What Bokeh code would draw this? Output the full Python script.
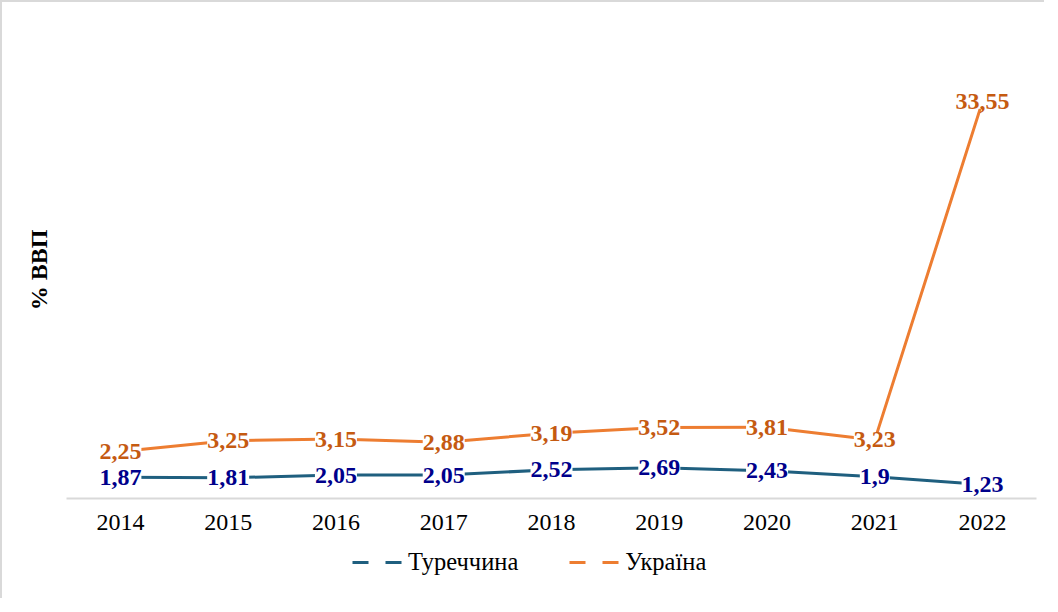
from bokeh.plotting import figure
from bokeh.layouts import column
from bokeh.models import Range1d, FactorRange, Legend, LegendItem, FixedTicker
from bokeh.core.properties import value
from bokeh.embed import file_html
from bokeh.resources import INLINE

# ---- data ----
years = ["2014", "2015", "2016", "2017", "2018", "2019", "2020", "2021", "2022"]
turkey = [1.87, 1.81, 2.05, 2.05, 2.52, 2.69, 2.43, 1.9, 1.23]
ukraine = [2.25, 3.25, 3.15, 2.88, 3.19, 3.52, 3.81, 3.23, 33.55]
series_names = ["Туреччина", "Україна"]
y_title = "% ВВП"

TC = "#1F5F7F"
UC = "#ED7D31"
TLC = "#00008B"
ULC = "#C55A11"
FONT = "Liberation Serif"


def fmt(v):
    return f"{v:g}".replace(".", ",")


# stacked line chart
stack_t = list(turkey)
stack_u = [a + b for a, b in zip(turkey, ukraine)]

p = figure(width=1042, height=545,
           x_range=FactorRange(*years, range_padding=0),
           y_range=Range1d(0, 40),
           output_backend="svg", toolbar_location=None,
           min_border_left=64, min_border_right=8,
           min_border_top=39, min_border_bottom=49)
p.outline_line_color = None
p.grid.grid_line_color = None
p.background_fill_color = "white"
p.border_fill_color = "white"

p.line(years, stack_t, line_color=TC, line_width=3)
p.line(years, stack_u, line_color=UC, line_width=3)

p.text(x=years, y=stack_t, text=[fmt(v) for v in turkey],
       text_font=value(FONT), text_font_style="bold", text_font_size="24px",
       text_color=TLC, text_align="center", text_baseline="middle",
       background_fill_color="white")
p.text(x=years, y=stack_u, text=[fmt(v) for v in ukraine],
       text_font=value(FONT), text_font_style="bold", text_font_size="24px",
       text_color=ULC, text_align="center", text_baseline="middle",
       background_fill_color="white")

ax = p.xaxis[0]
ax.axis_line_color = "#d9d9d9"
ax.axis_line_width = 2
ax.major_tick_line_color = None
ax.major_tick_out = 0
ax.major_label_standoff = 16
ax.major_label_text_font = FONT
ax.major_label_text_font_size = "24px"
ax.major_label_text_color = "#000000"

yax = p.yaxis[0]
yax.ticker = FixedTicker(ticks=[])
yax.axis_line_color = None
yax.major_tick_line_color = None
yax.minor_tick_line_color = None
yax.major_tick_out = 0
yax.major_label_standoff = 0
yax.axis_label = y_title
yax.axis_label_standoff = 15
yax.axis_label_text_font = FONT
yax.axis_label_text_font_style = "bold"
yax.axis_label_text_font_size = "24px"
yax.axis_label_text_color = "#000000"
yax.axis_label_text_align = "right"

# legend in a small strip below the chart
lf = figure(width=1042, height=51, x_range=Range1d(0, 1), y_range=Range1d(0, 1),
            x_axis_location=None, y_axis_location=None,
            output_backend="svg", toolbar_location=None,
            min_border_left=0, min_border_right=0, min_border_top=0, min_border_bottom=0)
lf.outline_line_color = None
lf.grid.grid_line_color = None
lf.border_fill_color = "white"
d_t = lf.line(x=[5], y=[5], line_color=TC, line_width=3, line_dash="16 17")
d_u = lf.line(x=[5], y=[5], line_color=UC, line_width=3, line_dash="16 17")
legend = Legend(items=[LegendItem(label=series_names[0], renderers=[d_t]),
                       LegendItem(label=series_names[1], renderers=[d_u])],
                orientation="horizontal", location=(286, 22), margin=0,
                padding=0, spacing=51, glyph_width=52, label_standoff=4,
                border_line_color=None, background_fill_alpha=0,
                label_text_font=FONT, label_text_font_size="24.5px",
                label_text_color="#000000")
lf.add_layout(legend, "center")

layout = column(p, lf, spacing=0)
layout.styles = {"border-top": "2px solid #d9d9d9", "border-left": "2px solid #d9d9d9"}

open("out.html", "w").write(file_html(layout, INLINE))
